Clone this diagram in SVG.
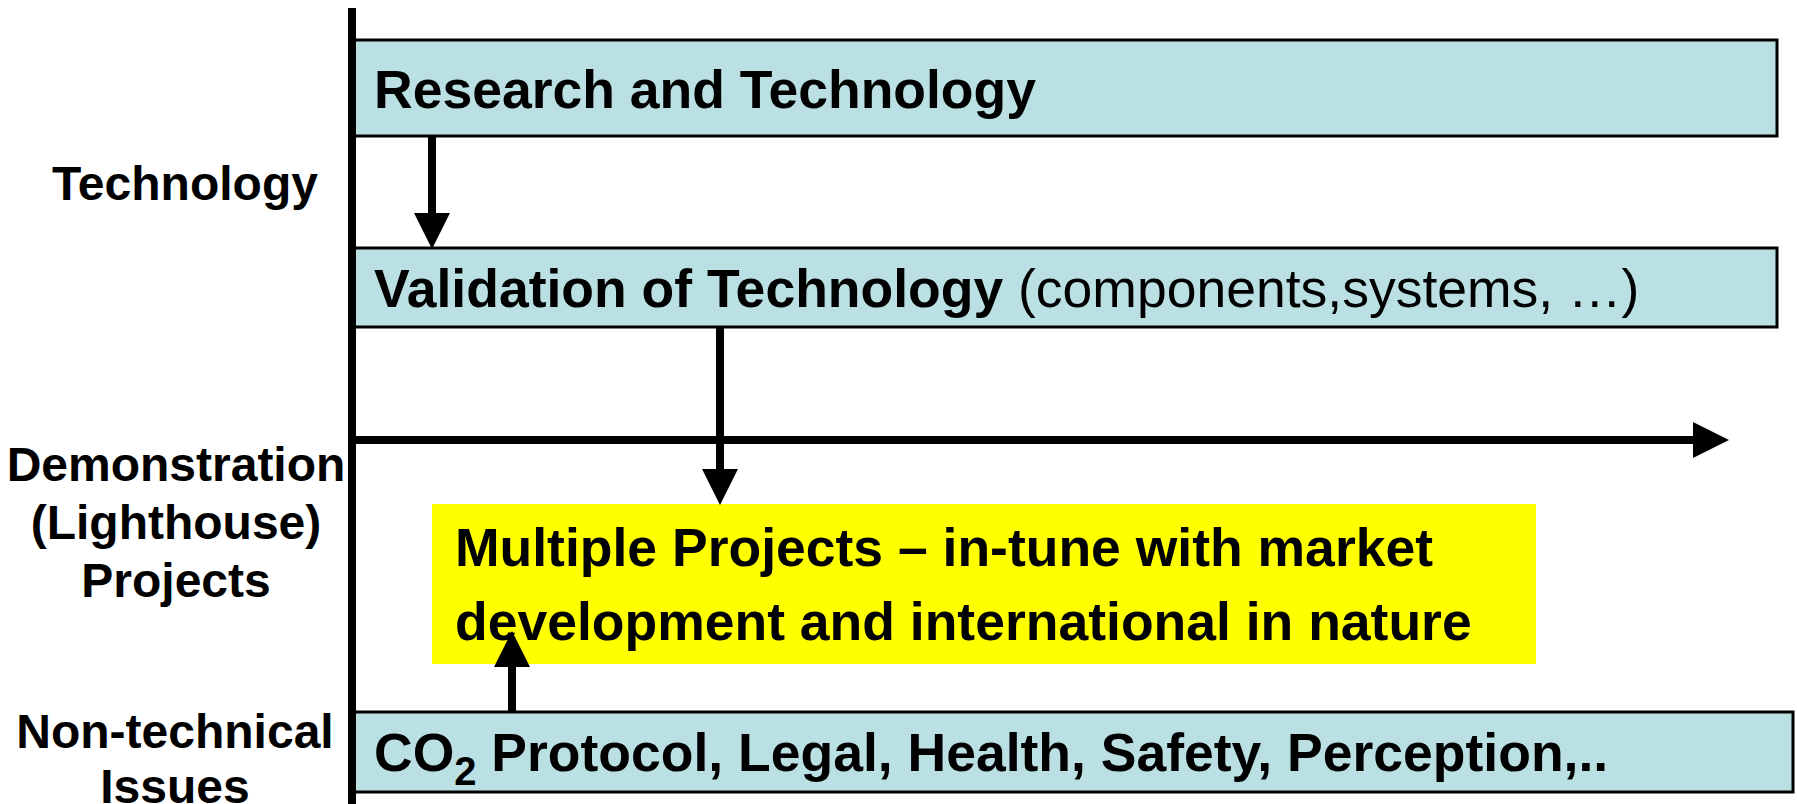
<svg xmlns="http://www.w3.org/2000/svg" width="1797" height="804" viewBox="0 0 1797 804">
<style>
.box{fill:#BAE0E3;stroke:#000;stroke-width:3}
.t{font-family:"Liberation Sans",Arial,sans-serif;font-size:53.5px;fill:#000}
.b{font-weight:bold}
.lbl{font-family:"Liberation Sans",Arial,sans-serif;font-size:48px;font-weight:bold;fill:#000;text-anchor:middle}
.ln{stroke:#000;stroke-width:8;fill:none}
</style>
<defs>
<marker id="ah" markerUnits="userSpaceOnUse" markerWidth="36" markerHeight="36" refX="0" refY="18" orient="auto" viewBox="0 0 36 36">
<path d="M0,0 L36,18 L0,36 Z" fill="#000"/>
</marker>
</defs>
<rect width="1797" height="804" fill="#fff"/>
<g id="labels">
<text class="lbl" x="185" y="200">Technology</text>
<text class="lbl" x="176" y="481">Demonstration</text>
<text class="lbl" x="176" y="539">(Lighthouse)</text>
<text class="lbl" x="176" y="597">Projects</text>
<text class="lbl" x="175" y="748">Non-technical</text>
<text class="lbl" x="175" y="803">Issues</text>
</g>
<g id="research">
<rect class="box" x="353" y="40" width="1424" height="96"/>
<text class="t b" x="374" y="108">Research and Technology</text>
</g>
<g id="validation">
<rect class="box" x="353" y="248" width="1424" height="79"/>
<text class="t" x="374" y="307"><tspan class="b">Validation of Technology</tspan> (components,systems, …)</text>
</g>
<g id="projects">
<rect x="432" y="504" width="1104" height="160" fill="#FFFF00"/>
<text class="t b" x="455" y="566">Multiple Projects – in-tune with market</text>
<text class="t b" x="455" y="640">development and international in nature</text>
</g>
<g id="nontech">
<rect class="box" x="353" y="712" width="1440" height="80"/>
<text class="t b" x="374" y="771">CO<tspan font-size="40" dy="14">2</tspan><tspan dy="-14"> Protocol, Legal, Health, Safety, Perception,..</tspan></text>
</g>
<g id="connectors">
<line class="ln" x1="352" y1="8" x2="352" y2="804"/>
<line class="ln" x1="352" y1="440" x2="1693" y2="440" marker-end="url(#ah)"/>
<line class="ln" x1="432" y1="136" x2="432" y2="213" marker-end="url(#ah)"/>
<line class="ln" x1="720" y1="327" x2="720" y2="469" marker-end="url(#ah)"/>
<line class="ln" x1="512" y1="712" x2="512" y2="667" marker-end="url(#ah)"/>
</g>
</svg>
